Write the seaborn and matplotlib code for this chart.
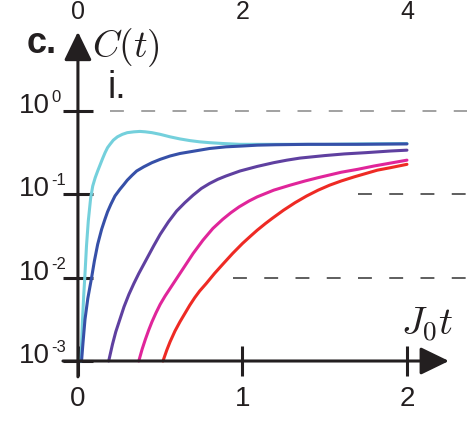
import numpy as np
import pandas as pd
import matplotlib
matplotlib.use("Agg")
import matplotlib.pyplot as plt
import matplotlib.transforms as mtransforms
from matplotlib.ticker import NullLocator
import seaborn as sns

# values (time J0*t, log10 C(t))
t_cyan = [0.018, 0.023, 0.028, 0.035, 0.043, 0.052, 0.063, 0.077, 0.09, 0.105, 0.12,
          0.134, 0.15, 0.165, 0.18, 0.195, 0.215, 0.24, 0.27, 0.30, 0.34, 0.377, 0.41,
          0.45, 0.50, 0.56, 0.62, 0.68, 0.74, 0.80, 0.88, 0.985, 1.1, 1.3, 1.5, 1.7, 2.0]
logc_cyan = [-3.0, -2.75, -2.5, -2.22, -1.95, -1.62, -1.32, -1.05, -0.90, -0.80, -0.72,
             -0.65, -0.57, -0.50, -0.44, -0.40, -0.35, -0.31, -0.28, -0.26, -0.25, -0.245,
             -0.25, -0.26, -0.28, -0.31, -0.335, -0.355, -0.37, -0.38, -0.39, -0.40,
             -0.40, -0.40, -0.40, -0.395, -0.39]

t_blue = [0.022, 0.03, 0.043, 0.06, 0.083, 0.10, 0.12, 0.144, 0.164, 0.18, 0.20, 0.225,
          0.255, 0.28, 0.30, 0.33, 0.357, 0.40, 0.45, 0.50, 0.56, 0.62, 0.68, 0.74, 0.80,
          0.90, 1.0, 1.09, 1.2, 1.4, 1.7, 2.0]
logc_blue = [-3.0, -2.8, -2.5, -2.25, -2.0, -1.80, -1.6, -1.42, -1.30, -1.21, -1.12,
             -1.02, -0.94, -0.88, -0.83, -0.77, -0.72, -0.67, -0.62, -0.58, -0.54, -0.51,
             -0.49, -0.47, -0.45, -0.43, -0.42, -0.41, -0.405, -0.40, -0.40, -0.395]

t_purple = [0.187, 0.21, 0.23, 0.255, 0.28, 0.31, 0.34, 0.37, 0.40, 0.43, 0.46, 0.50,
            0.55, 0.60, 0.65, 0.70, 0.75, 0.80, 0.85, 0.90, 0.985, 1.09, 1.19, 1.27,
            1.35, 1.5, 1.62, 1.75, 1.9, 2.0]
logc_purple = [-3.0, -2.8, -2.65, -2.5, -2.35, -2.2, -2.07, -1.95, -1.84, -1.73, -1.62,
               -1.48, -1.33, -1.20, -1.10, -1.01, -0.93, -0.87, -0.82, -0.78, -0.72,
               -0.665, -0.62, -0.59, -0.565, -0.535, -0.515, -0.50, -0.48, -0.47]

t_magenta = [0.37, 0.39, 0.41, 0.43, 0.45, 0.475, 0.50, 0.53, 0.56, 0.61, 0.66, 0.70,
             0.76, 0.82, 0.88, 0.93, 0.98, 1.04, 1.09, 1.19, 1.29, 1.38, 1.46, 1.6, 1.7,
             1.8, 1.9, 2.0]
logc_magenta = [-3.0, -2.86, -2.74, -2.63, -2.53, -2.42, -2.32, -2.22, -2.13, -1.98,
                -1.83, -1.71, -1.55, -1.41, -1.30, -1.22, -1.15, -1.08, -1.03, -0.95,
                -0.89, -0.84, -0.80, -0.735, -0.70, -0.66, -0.625, -0.59]

t_red = [0.517, 0.54, 0.56, 0.59, 0.62, 0.65, 0.68, 0.71, 0.74, 0.78, 0.83, 0.88, 0.94,
         1.0, 1.05, 1.09, 1.14, 1.18, 1.25, 1.32, 1.39, 1.46, 1.53, 1.6, 1.68, 1.75,
         1.82, 1.9, 2.0]
logc_red = [-3.0, -2.87, -2.77, -2.64, -2.53, -2.43, -2.33, -2.24, -2.16, -2.07, -1.95,
            -1.84, -1.71, -1.59, -1.50, -1.43, -1.35, -1.29, -1.19, -1.10, -1.02, -0.95,
            -0.89, -0.84, -0.79, -0.75, -0.71, -0.68, -0.64]

series = ["cyan", "blue", "purple", "magenta", "red"]
colors = ["#74d0dc", "#3650a8", "#5f40a0", "#e0259a", "#ee2a24"]

x_ticks = [0, 1, 2]
y_ticks = [1e0, 1e-1, 1e-2, 1e-3]
y_sups = ["0", "-1", "-2", "-3"]
top_labels = ["0", "2", "4"]

# dashed reference levels and where each one starts
ref_levels = [1e0, 1e-1, 1e-2]
ref_start = [0.195, 1.70, 0.94]
ref_colors = ["#888888", "#333333", "#333333"]

rows = []
for name, t, lc in zip(series,
                       [t_cyan, t_blue, t_purple, t_magenta, t_red],
                       [logc_cyan, logc_blue, logc_purple, logc_magenta, logc_red]):
    for ti, li in zip(t, lc):
        rows.append({"t": ti, "C": 10 ** li, "curve": name})
df = pd.DataFrame(rows)

sns.set_style("white")
plt.rcParams["font.family"] = ["Liberation Sans", "DejaVu Sans"]
plt.rcParams["mathtext.fontset"] = "cm"
plt.rcParams["lines.scale_dashes"] = False

ink = "#231f20"
fig = plt.figure(figsize=(4.67, 4.47), dpi=100)
ax = fig.add_axes([60 / 467, 67 / 447, 407 / 467, 350 / 447])
ax.set_yscale("log")

sns.lineplot(data=df, x="t", y="C", hue="curve", palette=dict(zip(series, colors)),
             hue_order=series, sort=False, linewidth=2.2, legend=False, ax=ax)

for lvl, x0, c in zip(ref_levels, ref_start, ref_colors):
    ax.plot([x0, 2.5], [lvl, lvl], color=c, lw=1.1, dashes=(10, 12.5), zorder=1)

ax.set_xlim(-0.109, 2.365)
ax.set_ylim(10 ** -3.228, 10 ** 0.972)

for s in ax.spines.values():
    s.set_visible(False)
ax.spines["bottom"].set_position(("data", 1e-3))
ax.spines["left"].set_position(("data", 0))

# axis arrows
arrow = dict(arrowstyle="-|>,head_length=1.75,head_width=0.85", color=ink, lw=2.2,
             shrinkA=0, shrinkB=0, mutation_scale=10)
ax.annotate("", xy=(0, 10 ** 0.95), xytext=(0, 10 ** -3.19), arrowprops=arrow, zorder=5)
ax.annotate("", xy=(2.255, 1e-3), xytext=(-0.091, 1e-3), arrowprops=arrow, zorder=5)

ax.set_xticks(x_ticks)
ax.set_xticklabels([str(v) for v in x_ticks])
ax.set_yticks(y_ticks)
ax.set_yticklabels([])
ax.yaxis.set_minor_locator(NullLocator())
ax.tick_params(axis="both", direction="inout", length=21.6, width=2.2, color=ink,
               labelsize=20, labelcolor=ink, bottom=True, left=True)
ax.tick_params(axis="x", pad=7)
ax.tick_params(axis="y", pad=0)
ax.set_xlabel("")
ax.set_ylabel("")

for v, sup in zip(y_ticks, y_sups):
    ax.annotate("10", xy=(0, v), xytext=(-28, 5), textcoords="offset pixels",
                ha="right", va="center", fontsize=20, color=ink)
    ax.annotate(sup, xy=(0, v), xytext=(-27, 6), textcoords="offset pixels",
                ha="left", va="bottom", fontsize=12, color=ink)

# tick labels of the panel above, at the top edge
trans = mtransforms.blended_transform_factory(ax.transData, fig.transFigure)
for xv, lab in zip(x_ticks, top_labels):
    ax.text(xv, 1 - 19 / 447, lab, transform=trans, ha="center", va="baseline",
            fontsize=18, color=ink, clip_on=False)

fig.text(27 / 467, 1 - 53 / 447, "c.", fontsize=26, fontweight="bold", color=ink,
         va="baseline")
fig.text(92 / 467, 1 - 57 / 447, r"$C(t)$", fontsize=27, color=ink, va="baseline")
fig.text(107 / 467, 1 - 98 / 447, "i.", fontsize=27, color=ink, va="baseline")
fig.text(401 / 467, 1 - 335 / 447, r"$J_0t$", fontsize=28, color=ink, va="baseline")

fig.savefig("out.png", dpi=100)
